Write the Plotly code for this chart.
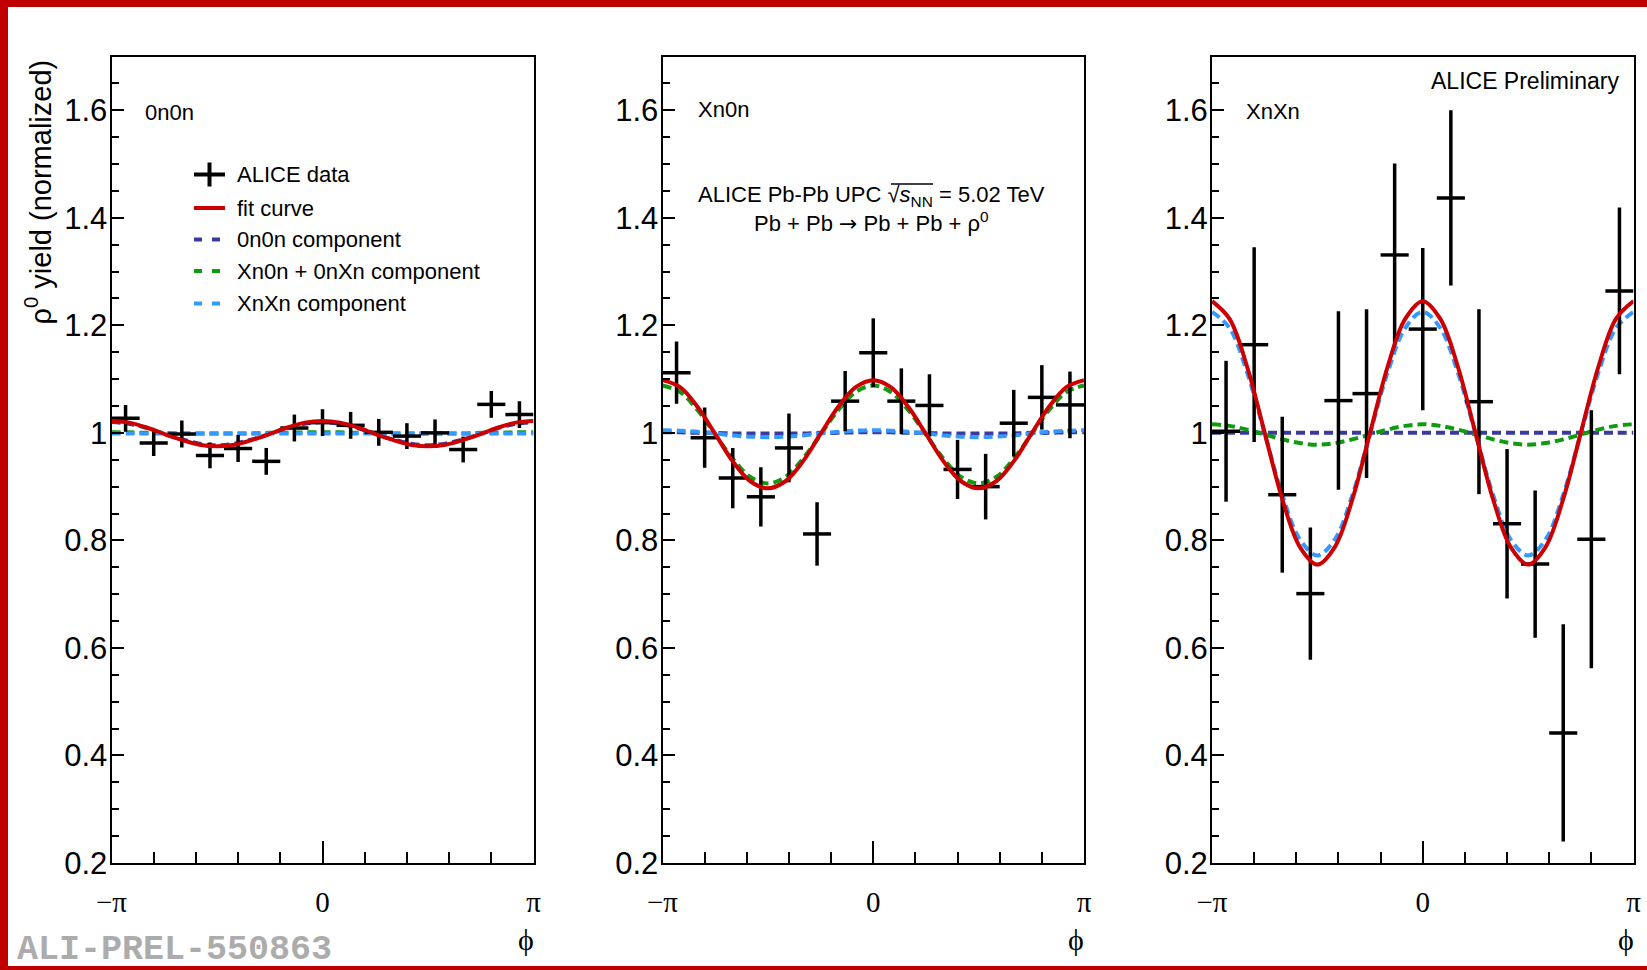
import numpy as np
import plotly.graph_objects as go

W, H = 1647, 970
PI = np.pi

# ---------------- data ----------------
n_bins = 15
phi_edges = np.linspace(-PI, PI, n_bins + 1)
phi_centers = 0.5 * (phi_edges[:-1] + phi_edges[1:])
phi_halfwidth = [0.5 * (phi_edges[1] - phi_edges[0])] * n_bins

panel_labels = ["0n0n", "Xn0n", "XnXn"]

y_0n0n = [1.027, 0.981, 0.998, 0.958, 0.971, 0.947, 1.009, 1.019, 1.014, 1.001, 0.994, 1.000, 0.969, 1.053, 1.034]
e_0n0n = [0.025, 0.024, 0.025, 0.024, 0.025, 0.025, 0.025, 0.025, 0.025, 0.025, 0.024, 0.025, 0.024, 0.025, 0.025]

y_xn0n = [1.112, 0.991, 0.916, 0.881, 0.972, 0.812, 1.059, 1.149, 1.059, 1.051, 0.932, 0.900, 1.018, 1.066, 1.052]
e_xn0n = [0.058, 0.056, 0.056, 0.055, 0.064, 0.059, 0.056, 0.064, 0.061, 0.058, 0.055, 0.061, 0.062, 0.060, 0.062]

y_xnxn = [1.003, 1.164, 0.885, 0.701, 1.060, 1.073, 1.331, 1.193, 1.437, 1.058, 0.831, 0.756, 0.442, 0.802, 1.264]
e_xnxn = [0.131, 0.181, 0.145, 0.123, 0.166, 0.157, 0.170, 0.151, 0.163, 0.172, 0.139, 0.137, 0.202, 0.240, 0.155]

# fit curves at phi = -pi ... pi in steps of pi/12
phi_curve = np.linspace(-PI, PI, 25)

fit_0n0n = [1.022, 1.019, 1.010, 0.998, 0.987, 0.978, 0.975, 0.978, 0.987, 0.998, 1.010, 1.019, 1.022,
            1.019, 1.010, 0.998, 0.987, 0.978, 0.975, 0.978, 0.987, 0.998, 1.010, 1.019, 1.022]
c00_0n0n = [1.020, 1.017, 1.009, 0.998, 0.988, 0.980, 0.977, 0.980, 0.988, 0.998, 1.009, 1.017, 1.020,
            1.017, 1.009, 0.998, 0.988, 0.980, 0.977, 0.980, 0.988, 0.998, 1.009, 1.017, 1.020]
cx0_0n0n = [1.001, 1.001, 1.000, 1.000, 0.999, 0.999, 0.999, 0.999, 0.999, 1.000, 1.000, 1.001, 1.001,
            1.001, 1.000, 1.000, 0.999, 0.999, 0.999, 0.999, 0.999, 1.000, 1.000, 1.001, 1.001]
cxx_0n0n = [0.999, 0.999, 0.999, 0.999, 0.999, 0.999, 0.999, 0.999, 0.999, 0.999, 0.999, 0.999, 0.999,
            0.999, 0.999, 0.999, 0.999, 0.999, 0.999, 0.999, 0.999, 0.999, 0.999, 0.999, 0.999]

fit_xn0n = [1.098, 1.085, 1.048, 0.998, 0.947, 0.910, 0.897, 0.910, 0.947, 0.998, 1.048, 1.085, 1.098,
            1.085, 1.048, 0.998, 0.947, 0.910, 0.897, 0.910, 0.947, 0.998, 1.048, 1.085, 1.098]
c00_xn0n = [1.001, 1.001, 1.000, 1.000, 0.999, 0.999, 0.999, 0.999, 0.999, 1.000, 1.000, 1.001, 1.001,
            1.001, 1.000, 1.000, 0.999, 0.999, 0.999, 0.999, 0.999, 1.000, 1.000, 1.001, 1.001]
cx0_xn0n = [1.088, 1.076, 1.042, 0.997, 0.952, 0.918, 0.906, 0.918, 0.952, 0.997, 1.042, 1.076, 1.088,
            1.076, 1.042, 0.997, 0.952, 0.918, 0.906, 0.918, 0.952, 0.997, 1.042, 1.076, 1.088]
cxx_xn0n = [1.005, 1.004, 1.002, 0.999, 0.995, 0.993, 0.992, 0.993, 0.995, 0.999, 1.002, 1.004, 1.005,
            1.004, 1.002, 0.999, 0.995, 0.993, 0.992, 0.993, 0.995, 0.999, 1.002, 1.004, 1.005]

fit_xnxn = [1.245, 1.212, 1.123, 1.000, 0.877, 0.788, 0.755, 0.788, 0.877, 1.000, 1.123, 1.212, 1.245,
            1.212, 1.123, 1.000, 0.877, 0.788, 0.755, 0.788, 0.877, 1.000, 1.123, 1.212, 1.245]
c00_xnxn = [1.000, 1.000, 1.000, 1.000, 1.000, 1.000, 1.000, 1.000, 1.000, 1.000, 1.000, 1.000, 1.000,
            1.000, 1.000, 1.000, 1.000, 1.000, 1.000, 1.000, 1.000, 1.000, 1.000, 1.000, 1.000]
cx0_xnxn = [1.016, 1.013, 1.006, 0.997, 0.988, 0.981, 0.978, 0.981, 0.988, 0.997, 1.006, 1.013, 1.016,
            1.013, 1.006, 0.997, 0.988, 0.981, 0.978, 0.981, 0.988, 0.997, 1.006, 1.013, 1.016]
cxx_xnxn = [1.225, 1.195, 1.112, 0.999, 0.885, 0.802, 0.772, 0.802, 0.885, 0.999, 1.112, 1.195, 1.225,
            1.195, 1.112, 0.999, 0.885, 0.802, 0.772, 0.802, 0.885, 0.999, 1.112, 1.195, 1.225]

data_y = [y_0n0n, y_xn0n, y_xnxn]
data_e = [e_0n0n, e_xn0n, e_xnxn]
curves = [
    [c00_0n0n, cx0_0n0n, cxx_0n0n, fit_0n0n],
    [c00_xn0n, cx0_xn0n, cxx_xn0n, fit_xn0n],
    [c00_xnxn, cx0_xnxn, cxx_xnxn, fit_xnxn],
]

y_tickvals = [0.2, 0.4, 0.6, 0.8, 1.0, 1.2, 1.4, 1.6]
y_ticktext = ["0.2", "0.4", "0.6", "0.8", "1", "1.2", "1.4", "1.6"]
x_tickvals = [-PI, 0.0, PI]
x_ticktext = ["\u2212\u03c0", "0", "\u03c0"]

legend_labels = ["ALICE data", "fit curve", "0n0n component", "Xn0n + 0nXn component", "XnXn component"]

# ---------------- styles ----------------
RED = "#cc0000"
DBLUE = "#3a3a9e"
GREEN = "#109a10"
LBLUE = "#3399ff"
comp_colors = [DBLUE, GREEN, LBLUE]
FONT = "Liberation Sans"
SERIF = "Liberation Serif"

def px_x(p):
    return p / W

def px_y(p):
    return 1 - p / H

panel_px = [(111.5, 533.5), (662.5, 1084.0), (1212.0, 1633.5)]
y_top, y_bot = 56.5, 863.0

fig = go.Figure()

for i in range(3):
    xa = "x" if i == 0 else f"x{i+1}"
    ya = "y" if i == 0 else f"y{i+1}"
    for j, cv in enumerate(curves[i][:3]):
        fig.add_trace(go.Scatter(
            x=phi_curve, y=cv, mode="lines", xaxis=xa, yaxis=ya,
            line=dict(color=comp_colors[j], width=4, dash="9px,5px", shape="spline", smoothing=1.0),
            showlegend=False, hoverinfo="skip"))
    fig.add_trace(go.Scatter(
        x=phi_centers, y=data_y[i], mode="markers", xaxis=xa, yaxis=ya,
        marker=dict(size=1, color="black"),
        error_x=dict(type="data", array=phi_halfwidth, color="black", thickness=3.5, width=0),
        error_y=dict(type="data", array=data_e[i], color="black", thickness=3.5, width=0),
        showlegend=False))
    fig.add_trace(go.Scatter(
        x=phi_curve, y=curves[i][3], mode="lines", xaxis=xa, yaxis=ya,
        line=dict(color=RED, width=4, shape="spline", smoothing=1.0),
        showlegend=False, hoverinfo="skip"))

layout = dict(
    width=W, height=H,
    margin=dict(l=0, r=0, t=0, b=0, pad=0, autoexpand=False),
    paper_bgcolor="white", plot_bgcolor="white",
    showlegend=False,
    font=dict(family=FONT, color="black"),
)

minor_x = list(np.linspace(-PI, PI, 11))
minor_y = list(np.arange(0.2, 1.7001, 0.05))

for i in range(3):
    xk = "xaxis" if i == 0 else f"xaxis{i+1}"
    yk = "yaxis" if i == 0 else f"yaxis{i+1}"
    ya = "y" if i == 0 else f"y{i+1}"
    xa = "x" if i == 0 else f"x{i+1}"
    x0, x1 = panel_px[i]
    layout[xk] = dict(
        domain=[px_x(x0), px_x(x1)], range=[-PI, PI], anchor=ya, automargin=False,
        showline=True, linecolor="black", linewidth=2, mirror=True,
        ticks="inside", ticklen=22, tickwidth=2, tickcolor="black",
        tickmode="array", tickvals=x_tickvals, ticktext=x_ticktext,
        tickfont=dict(family=SERIF, size=29, color="black"), ticklabelstandoff=12,
        showgrid=False, zeroline=False, fixedrange=True,
        minor=dict(tickmode="array", tickvals=minor_x, ticks="inside", ticklen=11,
                   tickwidth=2, tickcolor="black", showgrid=False),
    )
    layout[yk] = dict(
        domain=[px_y(y_bot), px_y(y_top)], range=[0.2, 1.7], anchor=xa, automargin=False,
        showline=True, linecolor="black", linewidth=2, mirror=True,
        ticks="inside", ticklen=12, tickwidth=2, tickcolor="black",
        tickmode="array", tickvals=y_tickvals, ticktext=y_ticktext,
        tickfont=dict(family=FONT, size=31, color="black"), ticklabelstandoff=-4,
        showgrid=False, zeroline=False, fixedrange=True,
        minor=dict(tickmode="array", tickvals=minor_y, ticks="inside", ticklen=7,
                   tickwidth=2, tickcolor="black", showgrid=False),
    )

fig.update_layout(**layout)

ann = []
shapes = []

# red border (cropped screenshot frame)
BORDER = "#c00000"
shapes.append(dict(type="rect", xref="paper", yref="paper", x0=0, x1=1, y0=px_y(7), y1=1,
                   fillcolor=BORDER, line=dict(width=0), layer="above"))
shapes.append(dict(type="rect", xref="paper", yref="paper", x0=0, x1=px_x(8), y0=0, y1=1,
                   fillcolor=BORDER, line=dict(width=0), layer="above"))
shapes.append(dict(type="rect", xref="paper", yref="paper", x0=0, x1=1, y0=0, y1=px_y(966),
                   fillcolor=BORDER, line=dict(width=0), layer="above"))

# panel labels
label_pos = [(143, 112), (696, 109), (1244, 111)]
for lbl, (lx, ly) in zip(panel_labels, label_pos):
    ann.append(dict(text=lbl, x=px_x(lx), y=px_y(ly), xref="paper", yref="paper",
                    xanchor="left", yanchor="middle", showarrow=False,
                    font=dict(family=FONT, size=22, color="black")))

# x titles
for (x0, x1) in panel_px:
    ann.append(dict(text="\u03d5", x=px_x(x1 + 2), y=px_y(939), xref="paper", yref="paper",
                    xanchor="right", yanchor="middle", showarrow=False,
                    font=dict(family=SERIF, size=30, color="black")))

# y title
ann.append(dict(text="\u03c1<sup>0</sup> yield (normalized)", x=px_x(38), y=px_y(58),
                xref="paper", yref="paper", xanchor="center", yanchor="top",
                textangle=-90, showarrow=False, font=dict(family=FONT, size=29, color="black")))

# ALICE Preliminary
ann.append(dict(text="ALICE Preliminary", x=px_x(1621), y=px_y(81), xref="paper", yref="paper",
                xanchor="right", yanchor="middle", showarrow=False,
                font=dict(family=FONT, size=23, color="black")))

# collision system text
ann.append(dict(text="ALICE Pb-Pb UPC \u221a<i>s</i><sub>NN</sub> = 5.02 TeV", x=px_x(871), y=px_y(196),
                xref="paper", yref="paper", xanchor="center", yanchor="middle", showarrow=False,
                font=dict(family=FONT, size=22, color="black")))
ann.append(dict(text="Pb + Pb <span style=\"font-family:DejaVu Sans\">\u2192</span> Pb + Pb + \u03c1<sup>0</sup>",
                x=px_x(871), y=px_y(222),
                xref="paper", yref="paper", xanchor="center", yanchor="middle", showarrow=False,
                font=dict(family=FONT, size=22, color="black")))
# radical overline over s_NN
shapes.append(dict(type="line", xref="paper", yref="paper", x0=px_x(891), x1=px_x(933),
                   y0=px_y(184), y1=px_y(184), line=dict(color="black", width=1.5)))

# preliminary id
ann.append(dict(text="<b>ALI-PREL-550863</b>", x=px_x(15), y=px_y(950), xref="paper", yref="paper",
                xanchor="left", yanchor="middle", showarrow=False,
                font=dict(family="Liberation Mono", size=35, color="#acacac")))

# legend (panel 1)
leg_y = [174.5, 208, 239.5, 271, 303.5]
lx0, lx1, ltext = 194, 225, 235
leg_styles = [None, dict(color=RED, width=4),
              dict(color=DBLUE, width=4, dash="8px,10px"),
              dict(color=GREEN, width=4, dash="8px,10px"),
              dict(color=LBLUE, width=4, dash="8px,10px")]
for k, (lbl, yy) in enumerate(zip(legend_labels, leg_y)):
    if k == 0:
        shapes.append(dict(type="line", xref="paper", yref="paper", x0=px_x(lx0), x1=px_x(lx1),
                           y0=px_y(yy), y1=px_y(yy), line=dict(color="black", width=4)))
        shapes.append(dict(type="line", xref="paper", yref="paper", x0=px_x(209.5), x1=px_x(209.5),
                           y0=px_y(yy - 12), y1=px_y(yy + 12), line=dict(color="black", width=4)))
    else:
        shapes.append(dict(type="line", xref="paper", yref="paper", x0=px_x(lx0), x1=px_x(lx1),
                           y0=px_y(yy), y1=px_y(yy), line=leg_styles[k]))
    ann.append(dict(text=lbl, x=px_x(ltext), y=px_y(yy), xref="paper", yref="paper",
                    xanchor="left", yanchor="middle", showarrow=False,
                    font=dict(family=FONT, size=22, color="black")))

fig.update_layout(annotations=ann, shapes=shapes)
fig.write_html("out.html")
